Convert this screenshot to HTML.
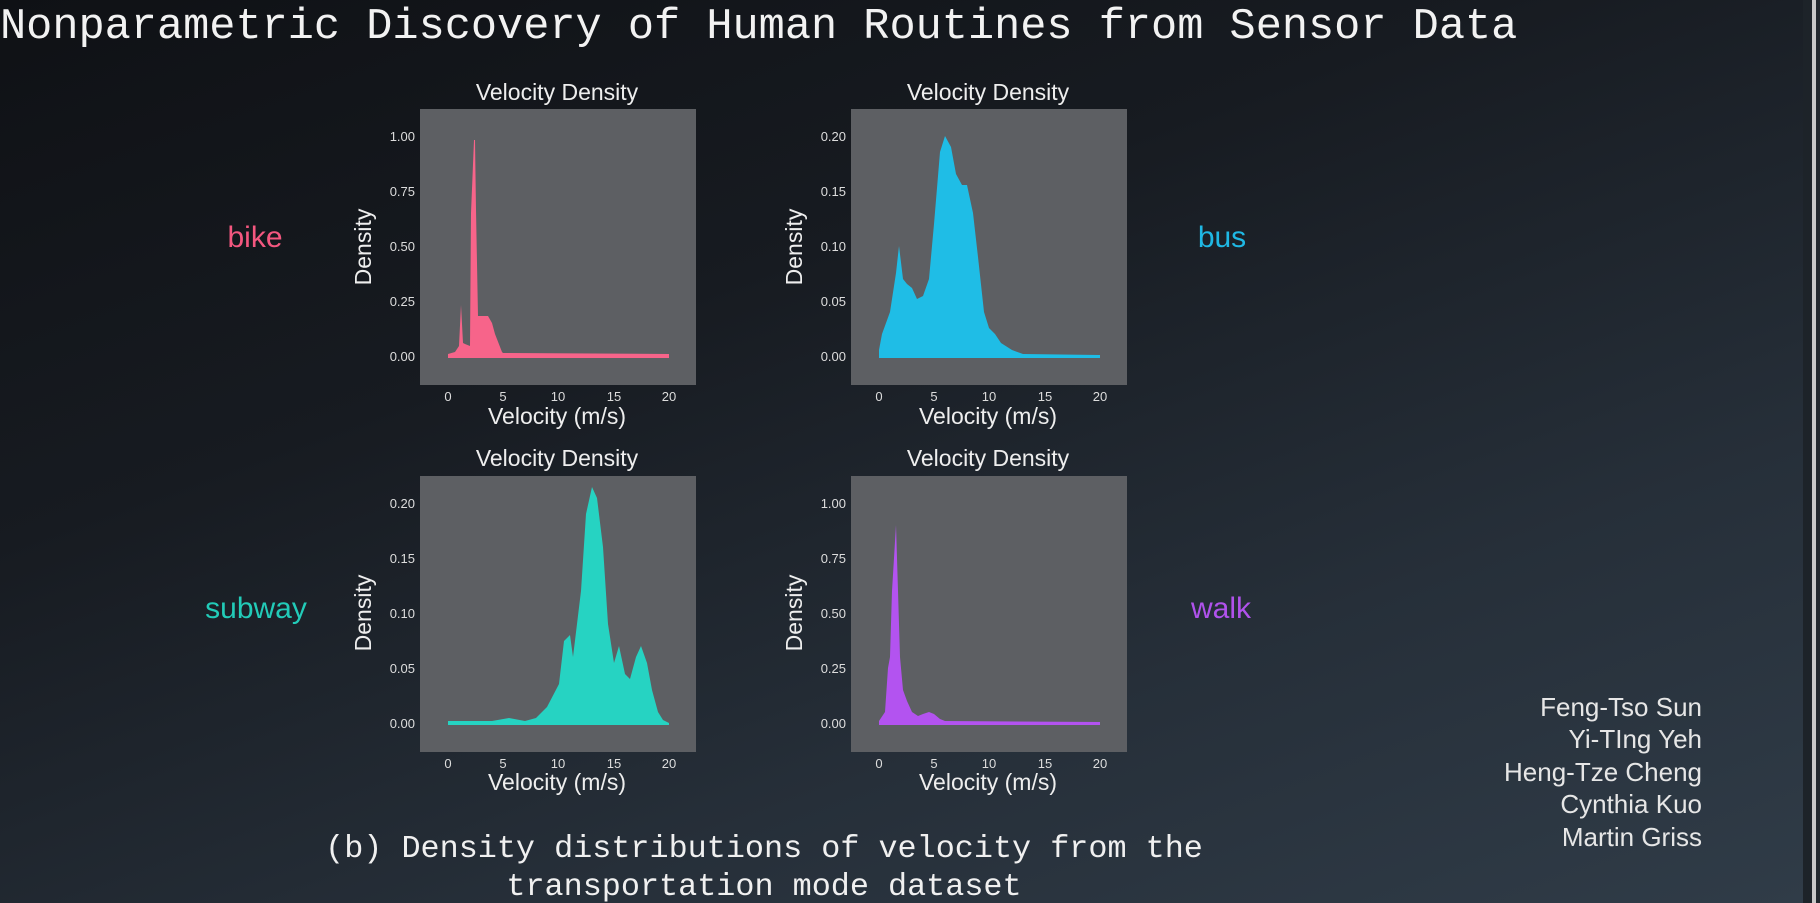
<!DOCTYPE html>
<html><head><meta charset="utf-8"><style>
html,body{margin:0;padding:0;}
body{width:1820px;height:903px;overflow:hidden;background:linear-gradient(160deg,#0f1115 0%,#171b21 35%,#262f39 70%,#303c48 100%);position:relative;}
</style></head><body>
<svg width="1820" height="903" style="position:absolute;left:0;top:0" font-family="Liberation Sans, DejaVu Sans, sans-serif">
<rect x="1803" y="0" width="9" height="903" fill="#1d2329"/>
<rect x="1812" y="0" width="4" height="903" fill="#c8c8c8"/>
<rect x="1816" y="0" width="4" height="903" fill="#22282e"/>
<text x="0" y="38" font-family="Liberation Mono, monospace" font-size="43.6" fill="#f2f2f2">Nonparametric Discovery of Human Routines from Sensor Data</text>

<g fill="#5d5f63">
<rect x="420" y="109" width="276" height="276"/>
<rect x="851" y="109" width="276" height="276"/>
<rect x="420" y="476" width="276" height="276"/>
<rect x="851" y="476" width="276" height="276"/>
</g>

<g fill="#eeeeee" font-size="23" text-anchor="middle">
<text x="557" y="100">Velocity Density</text>
<text x="988" y="100">Velocity Density</text>
<text x="557" y="466">Velocity Density</text>
<text x="988" y="466">Velocity Density</text>
<text x="557" y="424">Velocity (m/s)</text>
<text x="988" y="424">Velocity (m/s)</text>
<text x="557" y="790">Velocity (m/s)</text>
<text x="988" y="790">Velocity (m/s)</text>
<text transform="translate(371,247) rotate(-90)">Density</text>
<text transform="translate(802,247) rotate(-90)">Density</text>
<text transform="translate(371,613) rotate(-90)">Density</text>
<text transform="translate(802,613) rotate(-90)">Density</text>
</g>

<g fill="#dddddd" font-size="13" text-anchor="end">
<text x="415" y="141">1.00</text><text x="415" y="196">0.75</text><text x="415" y="251">0.50</text><text x="415" y="306">0.25</text><text x="415" y="361">0.00</text>
<text x="846" y="141">0.20</text><text x="846" y="196">0.15</text><text x="846" y="251">0.10</text><text x="846" y="306">0.05</text><text x="846" y="361">0.00</text>
<text x="415" y="508">0.20</text><text x="415" y="563">0.15</text><text x="415" y="618">0.10</text><text x="415" y="673">0.05</text><text x="415" y="728">0.00</text>
<text x="846" y="508">1.00</text><text x="846" y="563">0.75</text><text x="846" y="618">0.50</text><text x="846" y="673">0.25</text><text x="846" y="728">0.00</text>
</g>
<g fill="#dddddd" font-size="13" text-anchor="middle">
<text x="448" y="401">0</text><text x="503" y="401">5</text><text x="558" y="401">10</text><text x="614" y="401">15</text><text x="669" y="401">20</text>
<text x="879" y="401">0</text><text x="934" y="401">5</text><text x="989" y="401">10</text><text x="1045" y="401">15</text><text x="1100" y="401">20</text>
<text x="448" y="768">0</text><text x="503" y="768">5</text><text x="558" y="768">10</text><text x="614" y="768">15</text><text x="669" y="768">20</text>
<text x="879" y="768">0</text><text x="934" y="768">5</text><text x="989" y="768">10</text><text x="1045" y="768">15</text><text x="1100" y="768">20</text>
</g>

<polygon fill="#f7648a" points="448,354 455,352 459,346 461,305 463,343 465,344 470,346 471,213 474,140 475,140 476,210 478,316 488,316 492,323 495,334 502,352 503,353 669,354 669,358 448,358"/>
<polygon fill="#1fbde6" points="879,350 882,334 890,312 896,273 899,246 903,279 907,284 912,288 917,299 923,296 929,279 934,224 940,152 945,136 951,147 956,174 962,185 967,185 973,213 978,257 984,312 989,328 995,334 1001,343 1012,350 1023,354 1100,355 1100,358 879,358"/>
<polygon fill="#26d3c2" points="448,721 492,721 509,718 525,721 536,718 547,707 559,684 564,641 570,635 573,657 581,591 586,514 592,487 597,498 603,547 608,624 614,663 619,646 625,674 630,679 636,657 641,646 647,663 652,690 658,712 663,720 669,723 669,725 448,725"/>
<polygon fill="#b353f0" points="879,721 885,712 888,668 890,657 892,591 896,525 898,591 900,657 903,690 907,701 912,712 918,716 923,714 929,712 934,714 940,719 945,721 1100,722 1100,725 879,725"/>

<g font-size="30" text-anchor="middle">
<text x="255" y="247" fill="#f4577f">bike</text>
<text x="1222" y="247" fill="#1fb8e4">bus</text>
<text x="256" y="618" fill="#22cbb8">subway</text>
<text x="1221" y="618" fill="#b052ec">walk</text>
</g>

<g fill="#e6e6e6" font-size="26" text-anchor="end">
<text x="1702" y="716">Feng-Tso Sun</text>
<text x="1702" y="748">Yi-TIng Yeh</text>
<text x="1702" y="781">Heng-Tze Cheng</text>
<text x="1702" y="813">Cynthia Kuo</text>
<text x="1702" y="846">Martin Griss</text>
</g>

<g fill="#f0f0f0" font-family="Liberation Mono, monospace" font-size="31.8" text-anchor="middle">
<text x="764" y="857">(b) Density distributions of velocity from the</text>
<text x="764" y="895">transportation mode dataset</text>
</g>
</svg>
</body></html>
